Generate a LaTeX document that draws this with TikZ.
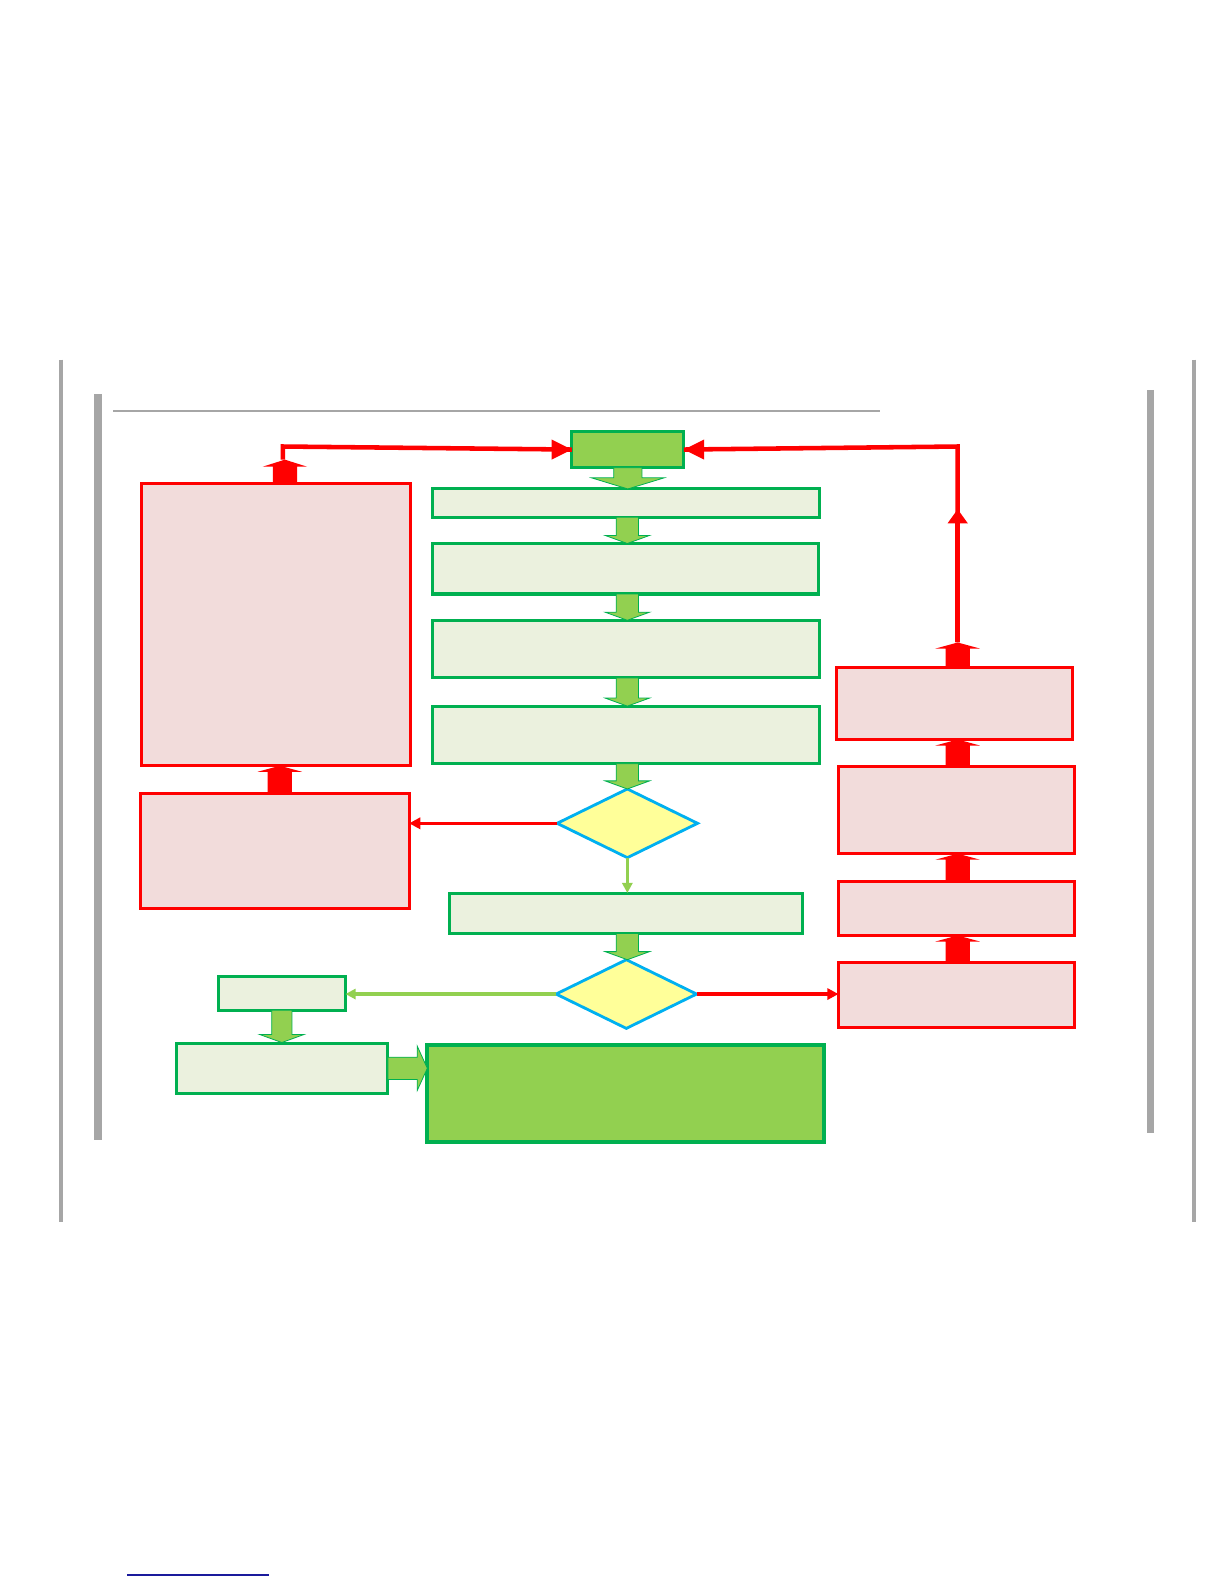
\documentclass[tikz,border=0pt]{standalone}
\usetikzlibrary{shapes.geometric,arrows.meta,calc}
\definecolor{dgreen}{HTML}{00B050}
\definecolor{mgreen}{HTML}{92D050}
\definecolor{lgreen}{HTML}{EBF1DE}
\definecolor{pinkf}{HTML}{F2DCDB}
\definecolor{yel}{HTML}{FFFF99}
\definecolor{cyanb}{HTML}{00B0F0}
\definecolor{grayl}{HTML}{A6A6A6}
\definecolor{navyl}{HTML}{1A1A9C}
\tikzset{
  bx/.style={rectangle,inner sep=0pt,outer sep=0pt},
  gbox/.style={bx,draw=dgreen,fill=lgreen,line width=3pt},
  dbox/.style={bx,draw=dgreen,fill=mgreen,line width=3pt},
  rbox/.style={bx,draw=red,fill=pinkf,line width=3pt},
  dia/.style={diamond,draw=cyanb,fill=yel,line width=2.8pt,inner sep=0pt,outer sep=0pt,minimum width=139pt,minimum height=68pt},
  garr/.style={fill=mgreen,draw=dgreen,line width=0.8pt,line join=miter},
  rarr/.style={fill=red,draw=none},
  redline/.style={draw=red,line width=4.5pt},
  redthin/.style={draw=red,line width=3.4pt,-{Triangle[length=11pt,width=11pt]}},
  greenthin/.style={draw=mgreen,line width=3.2pt,-{Triangle[length=10pt,width=10pt]}},
  grayline/.style={draw=grayl},
}
\newcommand\bxx[6]{\node[#2,minimum width={#5pt-#3pt},minimum height={#6pt-#4pt}] (#1) at ({(#3+#5)/2},{(#4+#6)/2}) {};}
\newcommand\blkdown[6][garr]{\path[#1] let \p1=(#2), \p2=(#3) in
  (\x1-#4pt,\y1) -- (\x1+#4pt,\y1) -- (\x1+#4pt,\y2+#6pt) -- (\x1+#5pt,\y2+#6pt) -- (\x1,\y2)
  -- (\x1-#5pt,\y2+#6pt) -- (\x1-#4pt,\y2+#6pt) -- cycle;}
\newcommand\blkup[6][rarr]{\path[#1] let \p1=(#2), \p2=(#3) in
  (\x1-#4pt,\y1) -- (\x1+#4pt,\y1) -- (\x1+#4pt,\y2-#6pt) -- (\x1+#5pt,\y2-#6pt) -- (\x1,\y2)
  -- (\x1-#5pt,\y2-#6pt) -- (\x1-#4pt,\y2-#6pt) -- cycle;}
\begin{document}
\begin{tikzpicture}[x=1pt,y=-1pt]
\useasboundingbox (0,0) rectangle (1212,1568);
% frame lines
\draw[grayline,line width=4pt] (60,356) -- (60,1210);
\draw[grayline,line width=4pt] (1182,356) -- (1182,1210);
\draw[grayline,line width=7pt] (97,390) -- (97,1128);
\draw[grayline,line width=7pt] (1139,386) -- (1139,1122);
\draw[grayline,line width=2pt] (112,407) -- (871,407);
\draw[navyl,line width=1.5pt] (126,1559) -- (266,1559);
% central column
\bxx{top}{dbox}{566}{427}{677}{463}
\bxx{b1}{gbox}{428}{484}{811}{512}
\bxx{b2}{gbox}{428}{538}{810}{588}
\bxx{b3}{gbox}{428}{614}{811}{671}
\bxx{b4}{gbox}{428}{699}{811}{756}
\node[dia] (d1) at (621,815) {};
\bxx{b5}{gbox}{445}{884}{794}{924}
\node[dia] (d2) at (620,984) {};
\bxx{fin}{dbox,line width=4pt}{423}{1034}{816}{1130}
% left bottom
\bxx{s1}{gbox}{216}{967}{342}{1000}
\bxx{s2}{gbox}{175}{1033}{384}{1082}
% left red
\bxx{L1}{rbox}{140}{479}{406}{758}
\bxx{L2}{rbox}{139}{785}{405}{899}
% right red
\bxx{R1}{rbox}{828}{661}{1062}{732}
\bxx{R2}{rbox}{830}{759}{1064}{845}
\bxx{R3}{rbox}{830}{873}{1064}{926}
\bxx{R4}{rbox}{830}{953}{1064}{1017}
% green block arrows
\blkdown{top.south}{b1.north}{14}{36}{11}
\blkdown{$(b1.south)+(1.5,0)$}{$(b2.north)+(1.5,0)$}{11}{22}{8}
\blkdown{$(b2.south)+(2,0)$}{$(b3.north)+(2,0)$}{11}{22}{8}
\blkdown{$(b3.south)+(1.5,0)$}{$(b4.north)+(1.5,0)$}{11}{22}{8}
\blkdown{$(b4.south)+(1.5,0)$}{d1.north}{11}{22}{8}
\blkdown{$(b5.south)+(1.5,0)$}{d2.north}{11}{22}{8}
\blkdown{s1.south}{$(s2.north)+(0,-1)$}{10}{22}{8}
\path[garr] let \p1=(s2.east), \p2=(fin.west) in
  (\x1,\y1+11pt) -- (\x2-10pt,\y1+11pt) -- (\x2-10pt,\y1+22pt) -- (\x2,\y1)
  -- (\x2-10pt,\y1-22pt) -- (\x2-10pt,\y1-11pt) -- (\x1,\y1-11pt) -- cycle;
% thin green arrows
\draw[greenthin] (d1.south) -- (d1.south |- b5.north);
\draw[greenthin] (d2.west) -- (d2.west -| s1.east);
% red block arrows
\blkup{$(R4.north)+(1,0)$}{$(R3.south)+(1,0)$}{12}{22}{6}
\blkup{$(R3.north)+(1,0)$}{$(R2.south)+(1,0)$}{12}{22}{6}
\blkup{$(R2.north)+(1,0)$}{$(R1.south)+(3,0)$}{12}{22}{6}
\coordinate (rtop) at (948,636);
\blkup{$(R1.north)+(3,0)$}{rtop}{12}{22}{6}
\blkup{$(L2.north)+(5,0)$}{$(L1.south)+(4,0)$}{12}{22}{6}
\coordinate (ltop) at (282,455);
\blkup{$(L1.north)+(9,0)$}{ltop}{12}{22}{7}
% red lines
\coordinate (rmid) at (948,504);
\coordinate (rcorner) at (948,442);
\coordinate (lcorner) at (280,442);
\draw[redline,line join=miter] (rtop) -- (rcorner) -- (top.east);
\draw[red,line width=4.5pt,-{Triangle[length=14pt,width=19pt]}] (rtop) -- (rmid);
\fill[red] (top.east) -- ++(20,-10) -- ++(0,20) -- cycle;
\draw[redline,line join=miter] ($(ltop)+(-2,0)$) -- (lcorner) -- (top.west);
\fill[red] (top.west) -- ++(-20,-10) -- ++(0,20) -- cycle;
\draw[redthin] (d1.west) -- (d1.west -| L2.east);
\draw[redthin] (d2.east) -- (d2.east -| R4.west);
\end{tikzpicture}
\end{document}
